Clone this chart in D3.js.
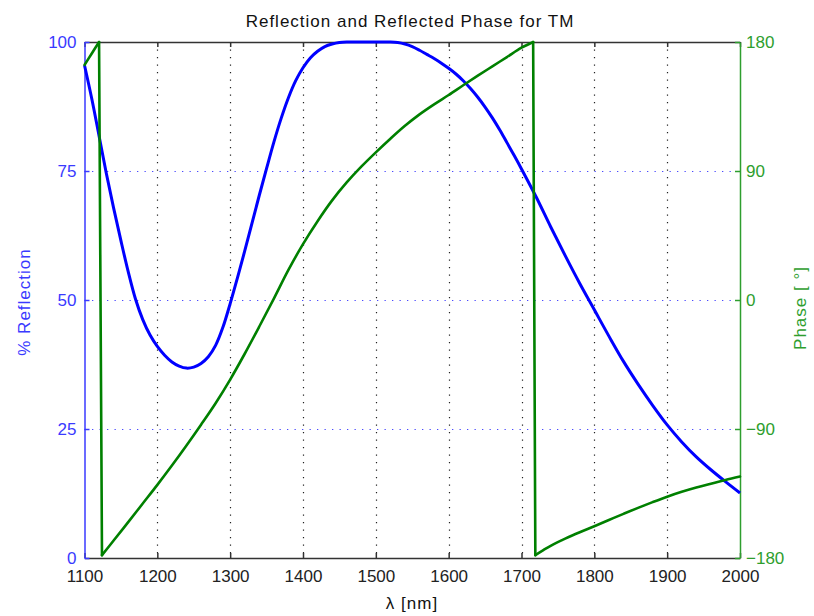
<!DOCTYPE html>
<html>
<head>
<meta charset="utf-8">
<script src="https://cdn.jsdelivr.net/npm/d3@7"></script>
<style>
  body { margin: 0; background: #fff; }
  svg { display: block; }
  text { font-family: "Liberation Sans", Arial, sans-serif; }
</style>
</head>
<body>
<svg id="chart" width="814" height="616"></svg>
<script>
// ---- data ----
const titleText = "Reflection and Reflected Phase for TM";
const xLabel = "λ [nm]";
const yLeftLabel = "% Reflection";
const yRightLabel = "Phase [ °]";

const xTicks = [1100, 1200, 1300, 1400, 1500, 1600, 1700, 1800, 1900, 2000];
const yLeftTicks = [0, 25, 50, 75, 100];
const yRightTicks = [-180, -90, 0, 90, 180];

const reflWavelength = [1100,1110,1120,1130,1140,1150,1160,1170,1180,1190,1200,1210,1220,1230,1240,1250,1260,1270,1280,1290,1300,1310,1320,1330,1340,1350,1360,1370,1380,1390,1400,1410,1420,1430,1440,1450,1460,1480,1500,1520,1530,1540,1550,1560,1570,1580,1590,1600,1610,1620,1630,1640,1650,1660,1670,1680,1690,1700,1720,1740,1760,1780,1800,1820,1840,1860,1880,1900,1920,1940,1960,1980,2000];
const reflection = [95.5,89,81.8,74.5,67.8,61.5,55.5,50.2,46.2,43.2,41,39.3,38,37.2,36.8,37,37.7,39,41.2,44.7,49.3,54.3,59.5,64.9,70.3,75.5,80.6,85.2,89.2,92.5,95,96.9,98.2,99.1,99.6,99.9,100,100,100,100,99.9,99.6,99.1,98.4,97.6,96.8,95.9,94.9,93.8,92.5,91,89.3,87.4,85.3,83,80.5,78,75.4,70,64.2,58.6,53.2,48.1,43,38.1,33.7,29.6,25.8,22.5,19.6,17.1,14.8,12.6];

const phaseWavelength = [1100,1110,1120,1124,1140,1160,1180,1200,1220,1240,1260,1280,1300,1320,1340,1360,1380,1400,1420,1440,1460,1480,1500,1520,1540,1560,1580,1600,1620,1640,1660,1680,1700,1716,1719,1730,1740,1760,1780,1800,1820,1840,1860,1880,1900,1920,1940,1960,1980,2000];
const phase = [164,172,180,-178,-167.8,-155,-142,-129,-115.5,-101.5,-87,-72,-55.5,-37.5,-18.5,1,21,39,55,69.5,82,93,103,112.5,121.5,129.5,136.5,143,149.8,156.5,163,169.5,176,180,-178,-174.5,-171.5,-166.5,-162,-157.8,-153.5,-149.2,-145,-141,-137.2,-133.8,-130.8,-128.2,-125.6,-123.2];

// ---- layout ----
const mLeft = 84.5, mRight = 740, mTop = 42, mBottom = 558;
const svg = d3.select("#chart");

const x = d3.scaleLinear().domain([1100, 2000]).range([mLeft, mRight]);
const yL = d3.scaleLinear().domain([0, 100]).range([mBottom, mTop]);
const yR = d3.scaleLinear().domain([-180, 180]).range([mBottom, mTop]);

const blueAxis = "#3a3aff";
const greenAxis = "#2e9e2e";
const fontSize = 17;

// grid: vertical black dotted
svg.append("g").selectAll("line")
  .data(xTicks.filter(d => d > 1100 && d < 2000))
  .join("line")
  .attr("x1", d => Math.round(x(d)) + 0.5).attr("x2", d => Math.round(x(d)) + 0.5)
  .attr("y1", mTop).attr("y2", mBottom)
  .attr("stroke", "#222").attr("stroke-width", 1.2)
  .attr("stroke-dasharray", "1.3,6.2");

// grid: horizontal blue dotted
svg.append("g").selectAll("line")
  .data(yLeftTicks.filter(d => d > 0 && d < 100))
  .join("line")
  .attr("x1", mLeft).attr("x2", mRight)
  .attr("y1", d => Math.round(yL(d)) + 0.5).attr("y2", d => Math.round(yL(d)) + 0.5)
  .attr("stroke", "#4a4aff").attr("stroke-width", 1.2)
  .attr("stroke-dasharray", "1.3,6.2");

// bottom axis
const gx = svg.append("g")
  .attr("transform", `translate(0,${mBottom})`)
  .call(d3.axisBottom(x).tickValues(xTicks).tickFormat(d3.format("d"))
    .tickSizeInner(-5).tickSizeOuter(0).tickPadding(12));
gx.select(".domain").attr("stroke", "#333").attr("stroke-width", 1.5);
gx.selectAll(".tick line").attr("stroke", "#333").attr("stroke-width", 1.5);
gx.selectAll("text").attr("fill", "#222").style("font-size", fontSize + "px");

// top axis (ticks only)
const gt = svg.append("g")
  .attr("transform", `translate(0,${mTop})`)
  .call(d3.axisTop(x).tickValues(xTicks).tickFormat("")
    .tickSizeInner(-5).tickSizeOuter(0));
gt.select(".domain").attr("stroke", "#333").attr("stroke-width", 1.5);
gt.selectAll(".tick line").attr("stroke", "#333").attr("stroke-width", 1.5);

// left axis
const gl = svg.append("g")
  .attr("transform", `translate(${mLeft},0)`)
  .call(d3.axisLeft(yL).tickValues(yLeftTicks).tickFormat(d3.format("d"))
    .tickSizeInner(-5).tickSizeOuter(0).tickPadding(8));
gl.select(".domain").attr("stroke", blueAxis).attr("stroke-width", 1.5);
gl.selectAll(".tick line").attr("stroke", blueAxis).attr("stroke-width", 1.5);
gl.selectAll("text").attr("fill", blueAxis).style("font-size", fontSize + "px");

// right axis
const gr = svg.append("g")
  .attr("transform", `translate(${mRight},0)`)
  .call(d3.axisRight(yR).tickValues(yRightTicks).tickFormat(d3.format("d"))
    .tickSizeInner(-5).tickSizeOuter(0).tickPadding(6));
gr.select(".domain").attr("stroke", greenAxis).attr("stroke-width", 1.5);
gr.selectAll(".tick line").attr("stroke", greenAxis).attr("stroke-width", 1.5);
gr.selectAll("text").attr("fill", greenAxis).style("font-size", fontSize + "px");

// lines
const reflData = reflWavelength.map((w, i) => [w, reflection[i]]);
const phaseData = phaseWavelength.map((w, i) => [w, phase[i]]);

svg.append("path")
  .datum(reflData)
  .attr("fill", "none").attr("stroke", "#0000ff").attr("stroke-width", 3)
  .attr("stroke-linejoin", "round")
  .attr("d", d3.line().x(d => x(d[0])).y(d => yL(d[1])).curve(d3.curveCatmullRom.alpha(0.5)));

// phase: split into continuous branches at the wrap-around jumps
const branches = [];
let cur = [phaseData[0]];
for (let i = 1; i < phaseData.length; i++) {
  if (Math.abs(phaseData[i][1] - phaseData[i - 1][1]) > 180) {
    branches.push(cur);
    branches.push([phaseData[i - 1], phaseData[i]]); // the wrap jump, straight
    cur = [phaseData[i]];
  } else {
    cur.push(phaseData[i]);
  }
}
branches.push(cur);

const phaseSmooth = d3.line().x(d => x(d[0])).y(d => yR(d[1])).curve(d3.curveCatmullRom.alpha(0.5));
svg.append("g").selectAll("path")
  .data(branches)
  .join("path")
  .attr("fill", "none").attr("stroke", "#008000").attr("stroke-width", 2.6)
  .attr("stroke-linejoin", "round").attr("stroke-linecap", "round")
  .attr("d", d => phaseSmooth(d));

// texts
svg.append("text")
  .attr("x", 410).attr("y", 27)
  .attr("text-anchor", "middle")
  .attr("fill", "#111")
  .style("font-size", fontSize + "px").style("letter-spacing", "1px")
  .text(titleText);

svg.append("text")
  .attr("x", 412).attr("y", 609)
  .attr("text-anchor", "middle")
  .attr("fill", "#111")
  .style("font-size", fontSize + "px").style("letter-spacing", "1px")
  .text(xLabel);

svg.append("text")
  .attr("transform", "translate(30,302) rotate(-90)")
  .attr("text-anchor", "middle")
  .attr("fill", blueAxis)
  .style("font-size", fontSize + "px").style("letter-spacing", "1px")
  .text(yLeftLabel);

svg.append("text")
  .attr("transform", "translate(806,308) rotate(-90)")
  .attr("text-anchor", "middle")
  .attr("fill", greenAxis)
  .style("font-size", fontSize + "px").style("letter-spacing", "1px")
  .text(yRightLabel);
</script>
</body>
</html>
